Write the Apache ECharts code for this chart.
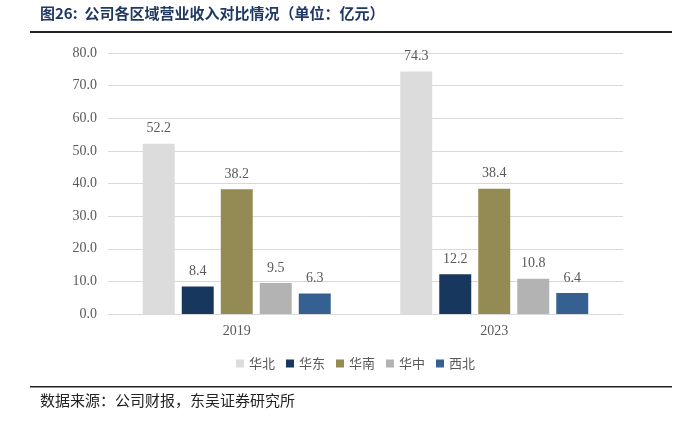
<!DOCTYPE html>
<html><head><meta charset="utf-8">
<script src="https://cdn.jsdelivr.net/npm/echarts@6/dist/echarts.min.js"></script>
<style>html,body{margin:0;padding:0;background:#fff}#c{width:692px;height:425px}</style>
</head><body><div id="c"></div>
<script>
const categories = ['2019', '2023'];
const seriesNames = ['华北', '华东', '华南', '华中', '西北'];
const huabei = [52.2, 74.3];
const huadong = [8.4, 12.2];
const huanan = [38.2, 38.4];
const huazhong = [9.5, 10.8];
const xibei = [6.3, 6.4];
const yTicks = [0, 10, 20, 30, 40, 50, 60, 70, 80];
const colors = ['#dcdcdc', '#17375e', '#948a54', '#b3b3b3', '#376092'];
const values = [huabei, huadong, huanan, huazhong, xibei];

const chart = echarts.init(document.getElementById('c'));
const numFont = '"Liberation Serif", "Times New Roman", serif';
chart.setOption({
  animation: false,
  color: colors,
  grid: { left: 108, right: 69, top: 53, bottom: 111, containLabel: false },
  legend: {
    data: seriesNames, left: 231, top: 352, itemWidth: 8, itemHeight: 8, itemGap: 11,
    icon: 'rect',
    textStyle: { color: '#595959', fontSize: 13, fontFamily: '"Noto Sans CJK SC"' }
  },
  xAxis: {
    type: 'category', data: categories,
    axisLine: { lineStyle: { color: '#d9d9d9' } }, axisTick: { show: false },
    axisLabel: { color: '#595959', fontSize: 14, fontFamily: numFont, margin: 10 }
  },
  yAxis: {
    type: 'value', min: yTicks[0], max: yTicks[yTicks.length - 1], interval: 10,
    axisLine: { show: false }, axisTick: { show: false },
    axisLabel: { color: '#595959', fontSize: 14, fontFamily: numFont, margin: 11, formatter: v => v.toFixed(1) },
    splitLine: { lineStyle: { color: '#d9d9d9', width: 1 } }
  },
  series: seriesNames.map((n, i) => ({
    name: n, type: 'bar', data: values[i], barGap: '22%', barCategoryGap: '27%',
    label: { show: true, position: 'top', distance: 8, color: '#595959', fontSize: 14, fontFamily: numFont, formatter: p => p.value.toFixed(1) }
  })),
  graphic: [
    { type: 'text', left: 40, top: 6, style: { text: '图26:  公司各区域营业收入对比情况（单位：亿元）', fill: '#1f3864', font: 'bold 15px "Noto Sans CJK SC"' } },
    { type: 'rect', shape: { x: 30, y: 31, width: 642, height: 2 }, style: { fill: '#222' } },
    { type: 'rect', shape: { x: 30, y: 386, width: 642, height: 1.5 }, style: { fill: '#222' } },
    { type: 'text', left: 40, top: 393, style: { text: '数据来源：公司财报，东吴证券研究所', fill: '#222', font: '15px "Noto Sans CJK SC"' } }
  ]
});
</script></body></html>
